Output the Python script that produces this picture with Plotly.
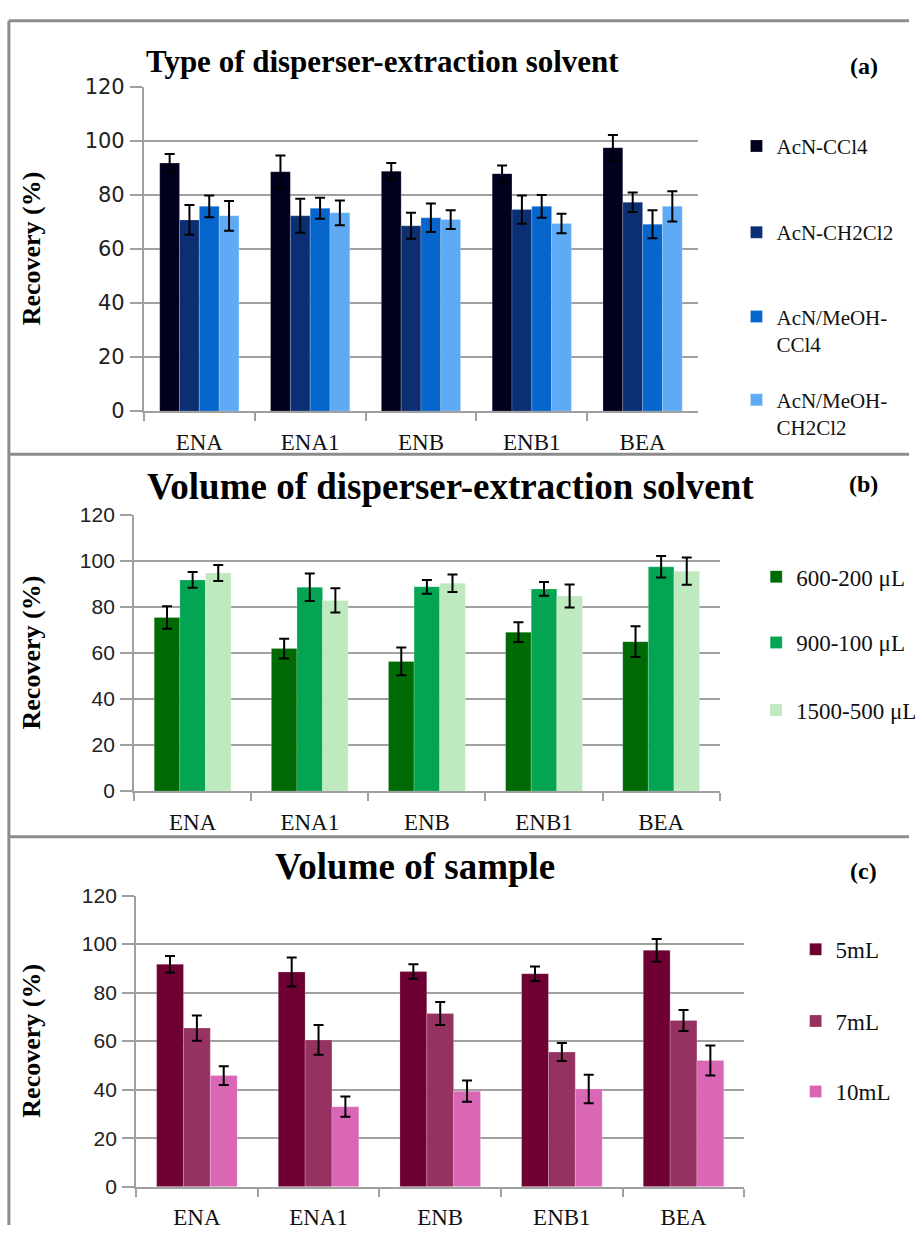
import plotly.graph_objects as go

W, H = 922, 1237

categories = ["ENA", "ENA1", "ENB", "ENB1", "BEA"]

# Panel (a): type of disperser-extraction solvent
acn_ccl4 = [91.7, 88.5, 88.7, 87.8, 97.4]
acn_ccl4_err = [3.4, 6.0, 3.0, 3.0, 4.7]
acn_ch2cl2 = [70.7, 72.2, 68.5, 74.5, 77.2]
acn_ch2cl2_err = [5.5, 6.3, 4.8, 5.2, 3.6]
acn_meoh_ccl4 = [75.7, 75.0, 71.5, 75.7, 69.1]
acn_meoh_ccl4_err = [4.0, 3.9, 5.3, 4.2, 5.2]
acn_meoh_ch2cl2 = [72.2, 73.3, 70.8, 69.4, 75.7]
acn_meoh_ch2cl2_err = [5.5, 4.6, 3.5, 3.6, 5.6]

# Panel (b): volume of disperser-extraction solvent
v600_200 = [75.4, 61.9, 56.3, 69.0, 64.9]
v600_200_err = [4.9, 4.3, 6.0, 4.3, 6.7]
v900_100 = [91.7, 88.5, 88.7, 87.8, 97.4]
v900_100_err = [3.4, 6.0, 3.0, 3.0, 4.7]
v1500_500 = [94.7, 82.8, 90.3, 84.7, 95.5]
v1500_500_err = [3.5, 5.3, 3.8, 5.0, 5.9]

# Panel (c): volume of sample
s5 = [91.7, 88.5, 88.7, 87.8, 97.4]
s5_err = [3.4, 6.0, 3.0, 3.0, 4.7]
s7 = [65.4, 60.5, 71.4, 55.5, 68.5]
s7_err = [5.2, 6.1, 4.7, 3.7, 4.3]
s10 = [45.8, 33.0, 39.4, 40.3, 52.0]
s10_err = [3.9, 4.2, 4.4, 5.9, 6.2]

y_ticks = [0, 20, 40, 60, 80, 100, 120]

SERIF = "Liberation Serif"


def px_x(x):
    return x / W


def px_y(y):
    return 1 - y / H


panels = [
    dict(
        series=[("AcN-CCl4", acn_ccl4, acn_ccl4_err, "#01011f"),
                ("AcN-CH2Cl2", acn_ch2cl2, acn_ch2cl2_err, "#0c2e72"),
                ("AcN/MeOH-<br>CCl4", acn_meoh_ccl4, acn_meoh_ccl4_err, "#0766cc"),
                ("AcN/MeOH-<br>CH2Cl2", acn_meoh_ch2cl2, acn_meoh_ch2cl2_err, "#5eaaf4")],
        xdom=(146, 708), ydom=(407, 76), group=0.715,
        tickfont=dict(family="DejaVu Sans", size=21, color="#222"),
        legend_y=[139, 227, 313, 398], legend_x=747, legend_size=21,
        title="Type of disperser-extraction solvent", title_size=31, title_x=388, title_y=50,
        tag="(a)", tag_y=55,
    ),
    dict(
        series=[("600-200 μL", v600_200, v600_200_err, "#006b05"),
                ("900-100 μL", v900_100, v900_100_err, "#04a552"),
                ("1500-500 μL", v1500_500, v1500_500_err, "#bfe9bf")],
        xdom=(136, 730), ydom=(794.5, 512.7), group=0.656,
        tickfont=dict(family="Liberation Sans", size=21, color="#222"),
        legend_y=[577, 644, 713], legend_x=767, legend_size=23,
        title="Volume of disperser-extraction solvent", title_size=37, title_x=457, title_y=484,
        tag="(b)", tag_y=481,
    ),
    dict(
        series=[("5mL", s5, s5_err, "#6e0034"),
                ("7mL", s7, s7_err, "#963262"),
                ("10mL", s10, s10_err, "#da66b6")],
        xdom=(138, 755), ydom=(1198, 901), group=0.662,
        tickfont=dict(family="Liberation Sans", size=21, color="#222"),
        legend_y=[957, 1030, 1102], legend_x=807, legend_size=23,
        title="Volume of sample", title_size=37, title_x=421, title_y=871,
        tag="(c)", tag_y=876,
    ),
]

fig = go.Figure()
annotations = []
legend_layouts = {}
legend_count = 0

for pi, p in enumerate(panels):
    suffix = "" if pi == 0 else str(pi + 1)
    n = len(p["series"])
    bw = p["group"] / n
    for si, (name, vals, errs, color) in enumerate(p["series"]):
        legend_count += 1
        lname = "legend" if legend_count == 1 else f"legend{legend_count}"
        fig.add_trace(go.Bar(
            x=categories, y=vals, name=name,
            xaxis="x" + suffix, yaxis="y" + suffix,
            width=bw, offset=-p["group"] / 2 + si * bw,
            marker=dict(color=color, line=dict(width=0.6, color="rgba(255,255,255,0.35)")),
            error_y=dict(type="data", array=errs, visible=True, color="black",
                         thickness=2, width=5),
            legend=lname, showlegend=True,
        ))
        legend_layouts[lname] = dict(
            x=px_x(p["legend_x"]), y=px_y(p["legend_y"][si] - 23),
            xanchor="left", yanchor="top", valign="top",
            bgcolor="rgba(0,0,0,0)", borderwidth=0,
            font=dict(family=SERIF, size=p["legend_size"], color="#111"),
            itemclick=False, itemdoubleclick=False,
        )
    axis_common = dict(showline=True, linecolor="#a0a0a0", linewidth=2)
    fig.update_layout({
        "xaxis" + suffix: dict(
            domain=[px_x(p["xdom"][0]), px_x(p["xdom"][1])], anchor="y" + suffix,
            type="category", categoryorder="array", categoryarray=categories,
            ticks="outside", tickson="boundaries", ticklen=8, tickwidth=2,
            tickcolor="#a0a0a0", ticklabelstandoff=9,
            tickfont=dict(family=SERIF, size=23, color="#111"),
            showgrid=False, fixedrange=True, **axis_common),
        "yaxis" + suffix: dict(
            domain=[px_y(p["ydom"][0]), px_y(p["ydom"][1])], anchor="x" + suffix,
            range=[0, 120], tickvals=y_ticks, ticks="outside", ticklen=12, tickwidth=2,
            tickcolor="#a0a0a0", ticklabelstandoff=1, tickfont=p["tickfont"],
            showgrid=True, gridcolor="#a0a0a0", gridwidth=2, zeroline=False,
            fixedrange=True, **axis_common),
    })
    annotations.append(dict(
        text="<b>" + p["title"] + "</b>", x=px_x(p["title_x"]), y=px_y(p["title_y"]),
        xref="paper", yref="paper", xanchor="center", yanchor="middle", showarrow=False,
        font=dict(family=SERIF, size=p["title_size"], color="#000")))
    annotations.append(dict(
        text="<b>" + p["tag"] + "</b>", x=px_x(876), y=px_y(p["tag_y"]),
        xref="paper", yref="paper", xanchor="center", yanchor="middle", showarrow=False,
        font=dict(family=SERIF, size=24, color="#000")))
    annotations.append(dict(
        text="<b>Recovery (%)</b>", x=px_x(32),
        y=px_y((p["ydom"][0] + p["ydom"][1]) / 2), textangle=-90,
        xref="paper", yref="paper", xanchor="center", yanchor="middle", showarrow=False,
        font=dict(family=SERIF, size=26, color="#000")))

shapes = []
line_style = dict(color="#8c8c8c", width=3)
shapes.append(dict(type="line", xref="paper", yref="paper", x0=px_x(9), x1=1.0,
                   y0=px_y(9), y1=px_y(9), line=line_style))
shapes.append(dict(type="line", xref="paper", yref="paper", x0=px_x(9), x1=px_x(9),
                   y0=px_y(9), y1=0.0, line=line_style))
for yy in (451, 841):
    shapes.append(dict(type="line", xref="paper", yref="paper", x0=px_x(9), x1=1.0,
                       y0=px_y(yy), y1=px_y(yy), line=line_style))

fig.update_layout(
    width=W, height=H, margin=dict(l=0, r=0, t=0, b=0),
    paper_bgcolor="white", plot_bgcolor="white",
    barmode="overlay", annotations=annotations, shapes=shapes,
    **legend_layouts,
)

fig.write_html("out.html")
